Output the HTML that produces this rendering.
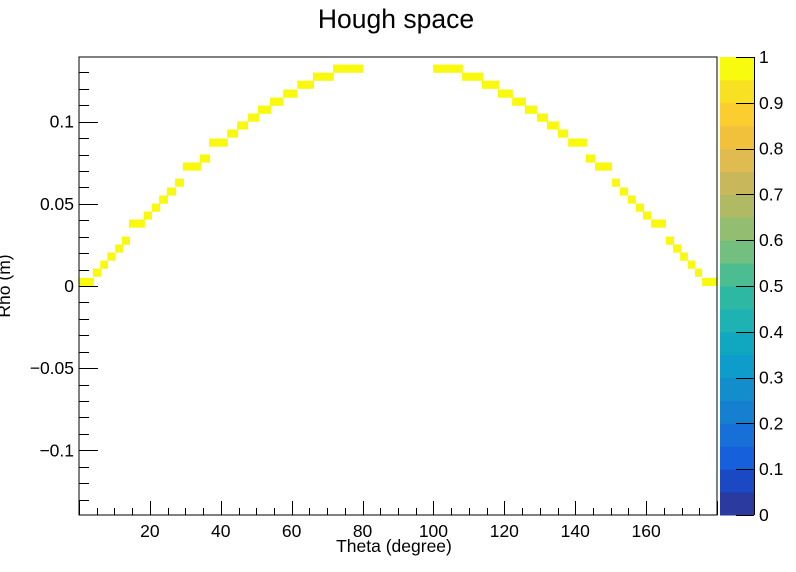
<!DOCTYPE html>
<html><head><meta charset="utf-8"><style>
html,body{margin:0;padding:0;background:#fff;}
svg{display:block;font-family:"Liberation Sans",Arial,sans-serif;}
</style></head><body>
<svg id="chart" width="796" height="572" viewBox="0 0 796 572" xmlns="http://www.w3.org/2000/svg">
<rect x="0" y="0" width="796" height="572" fill="#fff"/>
<text x="396" y="28" font-size="26.5" text-anchor="middle">Hough space</text>
<g id="cells"></g>
<g id="axes"></g>
<g id="palette"></g>
<text x="394" y="552" font-size="17.5" text-anchor="middle">Theta (degree)</text>
<text transform="translate(10,286) rotate(-90)" font-size="17.5" text-anchor="middle">Rho (m)</text>
</svg>
<script>
// data (theta in degrees, rho in metres)
const thetaLo = [0,3.9,6.0,8.0,10.2,12.1,14.1,18.3,20.6,22.6,24.8,27.1,29.3,34.1,36.7,41.8,44.6,47.7,50.5,53.9,57.6,61.6,66.0,71.7,
  99.9,108.1,113.7,118.2,122.2,125.8,129.2,132.0,135.1,138.0,143.0,145.6,150.4,152.6,154.9,157.1,159.1,161.4,165.6,167.6,169.6,171.8,173.8,175.8];
const thetaHi = [4.2,6.2,8.2,10.2,12.4,14.4,18.6,20.6,22.9,25.1,27.4,29.6,34.4,37.0,42.0,44.9,47.7,50.8,54.2,57.6,61.6,66.3,71.9,80.2,
  108.3,114.0,118.5,122.4,126.1,129.2,132.3,135.4,138.0,143.3,145.6,150.4,152.6,154.9,157.1,159.4,161.4,165.6,167.9,169.9,171.8,173.8,175.8,180];
const rhoLo = [0,0.0056,0.0105,0.0154,0.0203,0.0251,0.0355,0.0404,0.0452,0.0501,0.055,0.0604,0.0702,0.0751,0.0848,0.0903,0.0952,0.1,0.1048,0.1097,0.1146,0.12,0.1249,0.1298,
  0.1298,0.1249,0.12,0.1146,0.1097,0.1048,0.1,0.0952,0.0903,0.0848,0.0751,0.0702,0.0604,0.055,0.0501,0.0452,0.0404,0.0355,0.0251,0.0203,0.0154,0.0105,0.0056,0];
const rhoBin = 0.005;
const xTickLabels = [20,40,60,80,100,120,140,160];
const yTickLabels = [-0.1,-0.05,0,0.05,0.1];
const zTickLabels = [0,0.1,0.2,0.3,0.4,0.5,0.6,0.7,0.8,0.9,1];
const paletteColors = ['#2a3a9e','#1b49c4','#1660dc','#1670d8','#1680d0','#138dcb','#0e9ccb','#0fa8c0','#1fb2b2','#2db8a3',
  '#4bbd91','#73bf80','#93bd70','#b0ba64','#c9b75b','#dfbb50','#f1c13b','#fbcd2e','#f7e122','#f9fb0e'];

const NS='http://www.w3.org/2000/svg';
const L=79,R=717,T=57,B=515;
const xMin=0,xMax=180,yMin=-0.1394,yMax=0.1394;
const xs=v=>L+(v-xMin)/(xMax-xMin)*(R-L);
const ys=v=>B-(v-yMin)/(yMax-yMin)*(B-T);
function mk(tag,attrs,parent){const e=document.createElementNS(NS,tag);for(const k in attrs)e.setAttribute(k,attrs[k]);parent.appendChild(e);return e;}
const cells=document.getElementById('cells');
for(let i=0;i<thetaLo.length;i++){
  const x0=xs(thetaLo[i]),x1=xs(thetaHi[i]),y0=ys(rhoLo[i]+rhoBin),y1=ys(rhoLo[i]);
  const r=mk('rect',{x:x0,y:y0,width:x1-x0,height:y1-y0,fill:'#f9f90f'},cells);
  
  
}
const ax=document.getElementById('axes');
const fr=mk('rect',{x:L,y:T,width:R-L,height:B-T,fill:'none',stroke:'#000','stroke-width':1},ax);


for(let v=0;v<=180;v+=5){
  const major=v%20===0;const x=Math.round(xs(v))+0.5;
  mk('line',{x1:x,x2:x,y1:B,y2:B-(major?14:7),stroke:'#000','stroke-width':1},ax);
}
xTickLabels.forEach(v=>{
  const t=mk('text',{x:xs(v),y:B+22,'font-size':17.5,'text-anchor':'middle'},ax);t.textContent=v;
  
  
});
for(let k=-13;k<=13;k++){
  const v=k*0.01;const major=k%5===0;const y=Math.round(ys(v))+0.5;
  mk('line',{x1:L,x2:L+(major?19:10),y1:y,y2:y,stroke:'#000','stroke-width':1},ax);
}
yTickLabels.forEach(v=>{
  const t=mk('text',{x:74,y:ys(v)+6,'font-size':17.5,'text-anchor':'end'},ax);
  t.textContent=v<0?'\u2212'+Math.abs(v):String(v);
  
  
});
const pal=document.getElementById('palette');
const PL=720,PR=754;const zs=v=>B-v*(B-T);
paletteColors.forEach((c,i)=>{
  const y0=zs((i+1)/paletteColors.length),y1=zs(i/paletteColors.length);
  const r=mk('rect',{x:PL,y:y0,width:PR-PL,height:y1-y0+0.5,fill:c},pal);
  
  
});
mk('line',{x1:PR+0.5,x2:PR+0.5,y1:T,y2:B,stroke:'#000','stroke-width':1},pal);
zTickLabels.forEach(v=>{
  const y=Math.round(zs(v))+0.5;
  mk('line',{x1:PR-18,x2:PR,y1:y,y2:y,stroke:'#000','stroke-width':1},pal);
  const t=mk('text',{x:759,y:zs(v)+6,'font-size':17.5},pal);t.textContent=v;
  
  
});
</script>
</body></html>
